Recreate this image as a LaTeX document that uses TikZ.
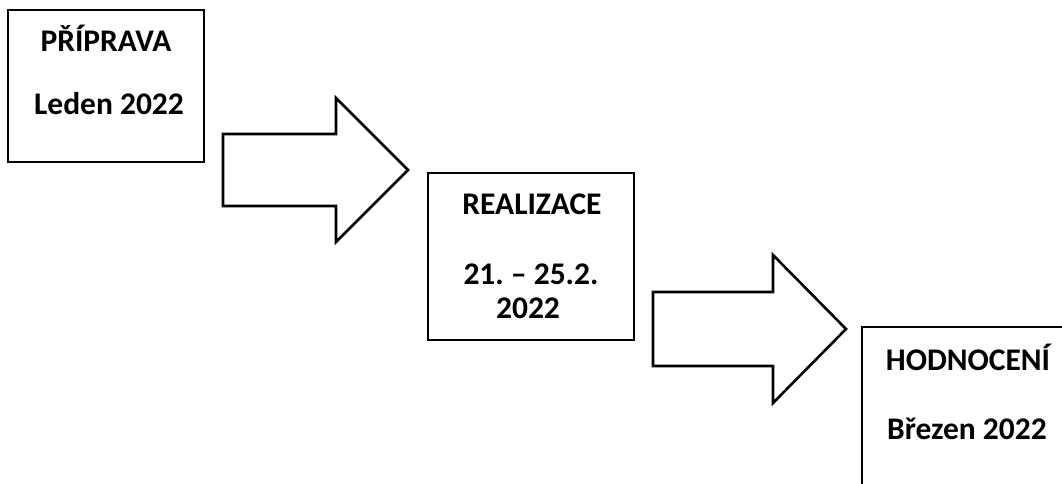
\documentclass[tikz,border=0pt]{standalone}
\usepackage{fontspec}
\setmainfont{Carlito}
\frenchspacing
\usetikzlibrary{positioning}
\tikzset{
phase/.style={rectangle, draw=black, line width=1.2pt, inner sep=0pt, outer sep=0pt},
txt/.style={font=\fontsize{31.5}{36}\selectfont\bfseries, anchor=base, inner sep=0pt},
blockarrow/.style={draw=black, line width=2.6pt, fill=white, line join=miter},
}
\begin{document}
\begin{tikzpicture}[x=1pt, y=-1pt]

    \useasboundingbox (0,0) rectangle (1062,483);
    \clip (0,0) rectangle (1062,483);

    % phases
    \node[phase, minimum width=196pt, minimum height=152pt] (PREP) at (106,86) {};
    \node[phase, minimum width=206pt, minimum height=167pt] (REAL) at (531,256.5) {};
    \node[phase, minimum width=212pt, minimum height=190pt] (EVAL) at (968,422) {};

    \node[txt] (PREP_title) at (106,51) {PŘÍPRAVA};
    \node[txt] (PREP_date) at (109,114) {Leden 2022};

    \node[txt] (REAL_title) at (532,214) {REALIZACE};
    \node[txt] (REAL_date) at (531,284) {21. – 25.2.};
    \node[txt] (REAL_year) at (528,318) {2022};

    \node[txt] (EVAL_title) at (968,370) {HODNOCENÍ};
    \node[txt] (EVAL_date) at (967,439) {Březen 2022};

    % block arrows
    \draw[blockarrow] (223,134) -- (336,134) -- (336,98) -- (408,170)
        -- (336,242) -- (336,206) -- (223,206) -- cycle;
    \draw[blockarrow] (653,292) -- (773,292) -- (773,255) -- (846,329)
        -- (773,403) -- (773,366) -- (653,366) -- cycle;
\end{tikzpicture}
\end{document}
